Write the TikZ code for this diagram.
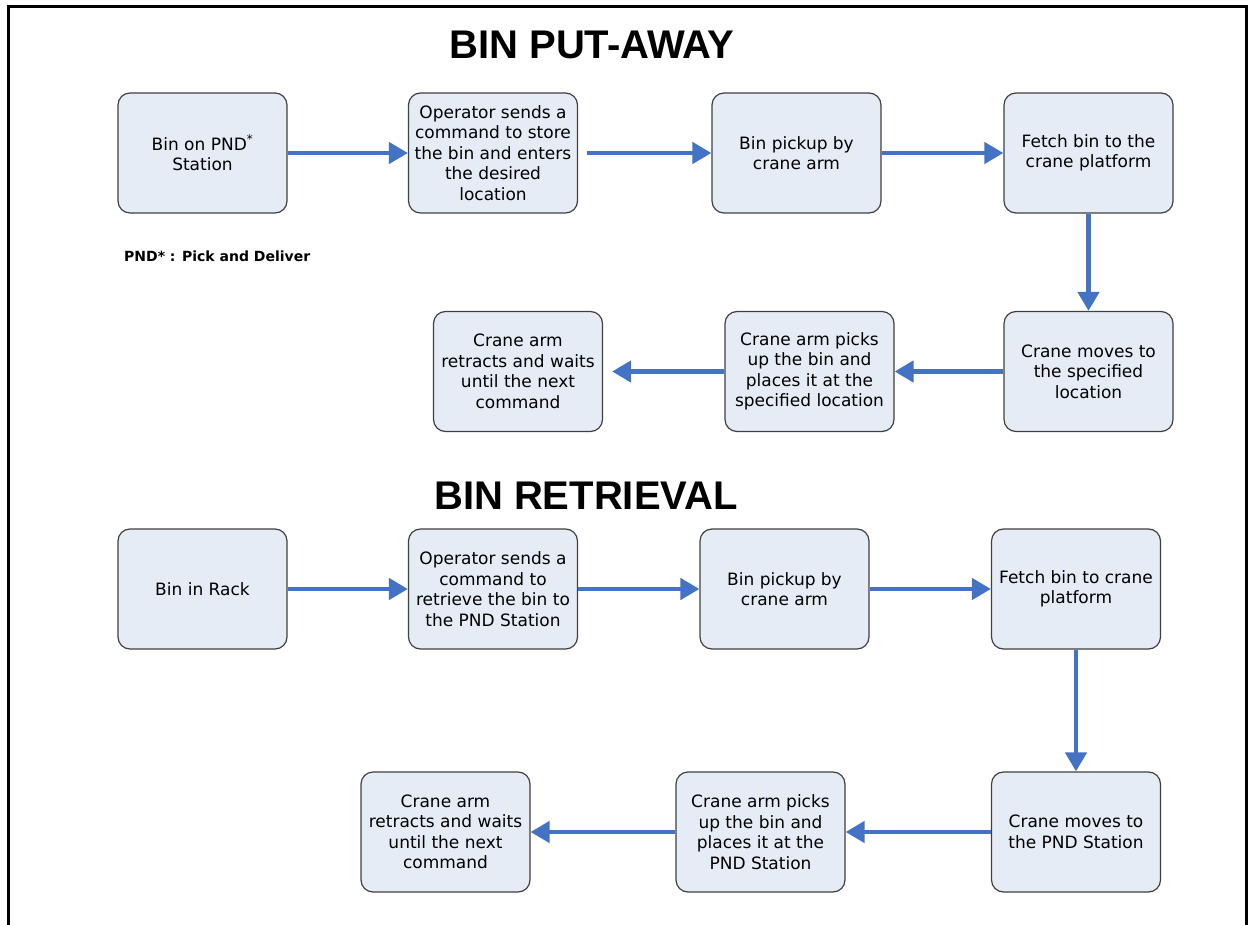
\documentclass[tikz,border=0pt]{standalone}
\usepackage{fontspec}
\setmainfont{DejaVu Sans}
\newfontfamily\titlefont{Liberation Sans}
\usetikzlibrary{arrows.meta}

\definecolor{boxfill}{RGB}{229,236,246}
\definecolor{boxline}{RGB}{64,64,64}
\definecolor{flowblue}{RGB}{68,114,196}

\begin{document}
\begin{tikzpicture}[
    x=1pt, y=-1pt,
    flow box/.style={rectangle, rounded corners=12pt, draw=boxline, line width=1.2pt, fill=boxfill, minimum width=169pt, minimum height=120pt, inner sep=1pt, align=center, font=\fontsize{17}{20.5}\selectfont},
    title text/.style={font=\titlefont\bfseries\fontsize{40}{42}\selectfont, inner sep=0pt},
    note text/.style={font=\bfseries\fontsize{14}{16}\selectfont, inner sep=0pt, anchor=west},
    flow arrow/.style={-{Triangle[length=19pt, width=21pt]}, draw=flowblue, line width=4.5pt}
]
    \useasboundingbox (0,0) rectangle (1253,925);
    % outer frame
    \draw[line width=3pt] (8,925) -- (8,7) -- (1246,7) -- (1246,925);

    % Bin put-away
    \node[title text] (title1) at (592,45) {BIN PUT-AWAY};
    \node[flow box] (put1) at (202.5,153) {Bin on PND\textsuperscript{*}\\Station};
    \node[flow box] (put2) at (493,153) {Operator sends a\\command to store\\the bin and enters\\the desired\\location};
    \node[flow box] (put3) at (796.5,153) {Bin pickup by\\crane arm};
    \node[flow box] (put4) at (1088.5,153) {Fetch bin to the\\crane platform};
    \node[flow box] (put5) at (1088.5,371.5) {Crane moves to\\the specified\\location};
    \node[flow box] (put6) at (809.5,371.5) {Crane arm picks\\up the bin and\\places it at the\\specified location};
    \node[flow box] (put7) at (518,371.5) {Crane arm\\retracts and waits\\until the next\\command};
    \node[note text] (note) at (124,256) {PND* : Pick and Deliver};

    \draw[flow arrow] (put1) -- (put2);
    \draw[flow arrow, shorten <=9pt] (put2) -- (put3);
    \draw[flow arrow] (put3) -- (put4);
    \draw[flow arrow] (put4) -- (put5);
    \draw[flow arrow] (put5) -- (put6);
    \draw[flow arrow, shorten >=9pt] (put6) -- (put7);

    % Bin retrieval
    \node[title text] (title2) at (586,496) {BIN RETRIEVAL};
    \node[flow box] (ret1) at (202.5,589) {Bin in Rack};
    \node[flow box] (ret2) at (493,589) {Operator sends a\\command to\\retrieve the bin to\\the PND Station};
    \node[flow box] (ret3) at (784.5,589) {Bin pickup by\\crane arm};
    \node[flow box] (ret4) at (1076,589) {Fetch bin to crane\\platform};
    \node[flow box] (ret5) at (1076,832) {Crane moves to\\the PND Station};
    \node[flow box] (ret6) at (760.5,832) {Crane arm picks\\up the bin and\\places it at the\\PND Station};
    \node[flow box] (ret7) at (445.5,832) {Crane arm\\retracts and waits\\until the next\\command};

    \draw[flow arrow] (ret1) -- (ret2);
    \draw[flow arrow] (ret2) -- (ret3);
    \draw[flow arrow] (ret3) -- (ret4);
    \draw[flow arrow] (ret4) -- (ret5);
    \draw[flow arrow] (ret5) -- (ret6);
    \draw[flow arrow] (ret6) -- (ret7);
\end{tikzpicture}
\end{document}
